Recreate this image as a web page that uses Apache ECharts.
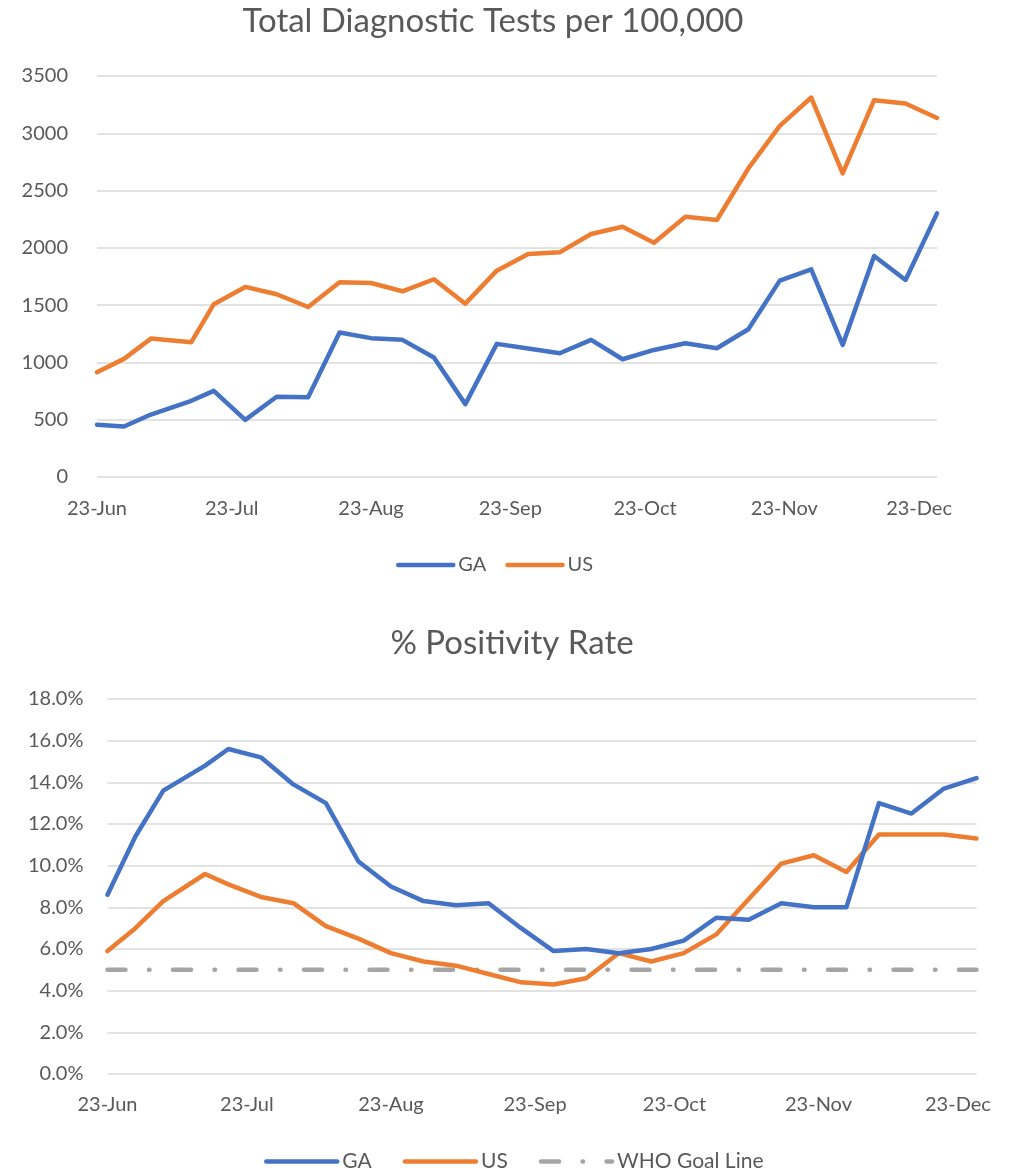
<!DOCTYPE html>
<html>
<head>
<meta charset="utf-8">
<title>Tests and positivity</title>
<script src="https://cdn.jsdelivr.net/npm/echarts@6/dist/echarts.min.js"></script>
<style>
  html, body { margin: 0; padding: 0; background: #fff; }
  #chart { width: 1022px; height: 1172px; }
</style>
</head>
<body>
<div id="chart"></div>
<script>
// weekly report dates (first few are irregular)
var weeks = ['2020-06-23', '2020-06-29', '2020-07-05', '2020-07-14', '2020-07-19', '2020-07-26', '2020-08-02',
  '2020-08-09', '2020-08-16', '2020-08-23', '2020-08-30', '2020-09-06', '2020-09-13', '2020-09-20',
  '2020-09-27', '2020-10-04', '2020-10-11', '2020-10-18', '2020-10-25', '2020-11-01', '2020-11-08',
  '2020-11-15', '2020-11-22', '2020-11-29', '2020-12-06', '2020-12-13', '2020-12-20', '2020-12-27']

// tick labels on the date axis
var tickDates = ['2020-06-23', '2020-07-23', '2020-08-23', '2020-09-23', '2020-10-23', '2020-11-23', '2020-12-23']
var tickLabels = ['23-Jun', '23-Jul', '23-Aug', '23-Sep', '23-Oct', '23-Nov', '23-Dec']

// total diagnostic tests per 100,000
var gaTests = [456, 441, 545, 665, 752, 499, 700, 696, 1261, 1212, 1197, 1043, 636, 1162,
  1121, 1080, 1197, 1028, 1109, 1168, 1124, 1290, 1714, 1813, 1153, 1929, 1720, 2301]
var usTests = [915, 1031, 1208, 1177, 1508, 1659, 1595, 1484, 1700, 1693, 1621, 1726, 1513, 1801,
  1946, 1961, 2121, 2184, 2045, 2271, 2243, 2693, 3065, 3312, 2650, 3289, 3260, 3134]

// % positivity rate
var gaPositivity = [8.6, 11.4, 13.6, 14.8, 15.6, 15.2, 13.9, 13.0, 10.2, 9.0, 8.3, 8.1, 8.2, 7.0,
  5.9, 6.0, 5.8, 6.0, 6.4, 7.5, 7.4, 8.2, 8.0, 8.0, 13.0, 12.5, 13.7, 14.2]
var usPositivity = [5.9, 7.0, 8.3, 9.6, 9.1, 8.5, 8.2, 7.1, 6.5, 5.8, 5.4, 5.2, 4.8, 4.4,
  4.3, 4.6, 5.8, 5.4, 5.8, 6.7, 8.4, 10.1, 10.5, 9.7, 11.5, 11.5, 11.5, 11.3]
var whoGoal = [5, 5, 5, 5, 5, 5, 5, 5, 5, 5, 5, 5, 5, 5,
  5, 5, 5, 5, 5, 5, 5, 5, 5, 5, 5, 5, 5, 5]

// days since the first report, used as x on a value axis
function dayIndex(s) {
  var p = s.split('-')
  var t = Date.UTC(+p[0], +p[1] - 1, +p[2])
  var q = weeks[0].split('-')
  var t0 = Date.UTC(+q[0], +q[1] - 1, +q[2])
  return Math.round((t - t0) / 86400000)
}
function pairs(values) {
  var out = []
  for (var i = 0; i < weeks.length; i++) {
    out.push([dayIndex(weeks[i]), values[i]])
  }
  return out
}

var font = 'Lato'
var textColor = '#595959'
var gridColor = '#D9D9D9'
var blue = '#4472C4'
var orange = '#ED7D31'
var grey = '#A5A5A5'

var ticks = tickDates.map(dayIndex)

function dateAxis(gridIndex, margin) {
  return {
    type: 'value',
    gridIndex: gridIndex,
    min: 0,
    max: dayIndex(weeks[weeks.length - 1]),
    axisLine: { show: false },
    axisTick: { show: false },
    splitLine: { show: false },
    axisLabel: {
      customValues: ticks,
      margin: margin,
      color: textColor,
      fontFamily: font,
      fontSize: 20,
      hideOverlap: false,
      formatter: function (v) {
        var i = ticks.indexOf(Math.round(v))
        return i < 0 ? '' : tickLabels[i]
      }
    }
  }
}

function lineSeries(name, values, color, xi, yi) {
  return {
    name: name,
    type: 'line',
    xAxisIndex: xi,
    yAxisIndex: yi,
    symbol: 'none',
    silent: true,
    color: color,
    lineStyle: { color: color, width: 4.5, cap: 'round', join: 'round' },
    data: pairs(values)
  }
}

var chart = echarts.init(document.getElementById('chart'))
var option = {
  animation: false,
  backgroundColor: '#fff',
  title: [
    {
      text: 'Total Diagnostic Tests per 100,000',
      left: 488, top: 0, textAlign: 'center',
      textStyle: { fontFamily: font, fontSize: 33, fontWeight: 'normal', color: textColor }
    },
    {
      text: '% Positivity Rate',
      left: 507, top: 622, textAlign: 'center',
      textStyle: { fontFamily: font, fontSize: 33, fontWeight: 'normal', color: textColor }
    }
  ],
  legend: [
    {
      data: ['GA', 'US'],
      left: 396, top: 555, padding: 0,
      itemWidth: 55, itemHeight: 14, itemGap: 19,
      lineStyle: { width: 4.5, cap: 'round' },
      itemStyle: { opacity: 0 },
      textStyle: { fontFamily: font, fontSize: 20, color: textColor }
    },
    {
      data: ['GA', 'US', 'WHO Goal Line'],
      left: 264, top: 1151, padding: 0,
      itemWidth: 71, itemHeight: 14, itemGap: 31,
      lineStyle: { width: 4.5, cap: 'round' },
      itemStyle: { opacity: 0 },
      textStyle: { fontFamily: font, fontSize: 21, color: textColor }
    }
  ],
  grid: [
    { left: 97, right: 85, top: 76, bottom: 695 },
    { left: 107.5, right: 45.5, top: 699, bottom: 98 }
  ],
  xAxis: [dateAxis(0, 22), dateAxis(1, 21)],
  yAxis: [
    {
      type: 'value', gridIndex: 0, min: 0, max: 3500, interval: 500,
      axisLine: { show: false }, axisTick: { show: false },
      splitLine: { lineStyle: { color: gridColor, width: 1.5 } },
      axisLabel: {
        margin: 29, color: textColor, fontFamily: font, fontSize: 20,
        formatter: function (v) { return String(v) }
      }
    },
    {
      type: 'value', gridIndex: 1, min: 0, max: 18, interval: 2,
      axisLine: { show: false }, axisTick: { show: false },
      splitLine: { lineStyle: { color: gridColor, width: 1.5 } },
      axisLabel: {
        margin: 24, color: textColor, fontFamily: font, fontSize: 20,
        formatter: function (v) { return v.toFixed(1) + '%' }
      }
    }
  ],
  series: [
    lineSeries('GA', gaTests, blue, 0, 0),
    lineSeries('US', usTests, orange, 0, 0),
    {
      name: 'WHO Goal Line',
      type: 'line',
      xAxisIndex: 1,
      yAxisIndex: 1,
      symbol: 'none',
      silent: true,
      color: grey,
      lineStyle: { color: grey, width: 4.5, cap: 'round', type: [18, 23.5, 0.5, 23.5] },
      data: pairs(whoGoal)
    },
    lineSeries('US', usPositivity, orange, 1, 1),
    lineSeries('GA', gaPositivity, blue, 1, 1)
  ]
}
chart.setOption(option)
</script>
</body>
</html>
